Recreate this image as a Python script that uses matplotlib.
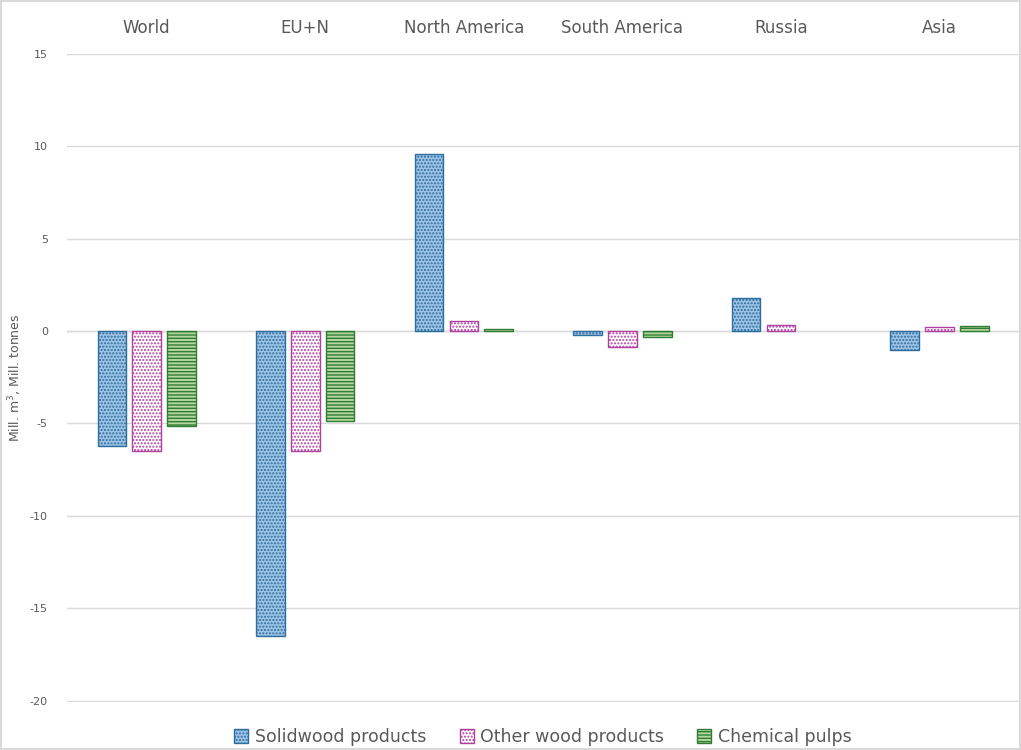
import matplotlib.pyplot as plt
import numpy as np

regions = ['World', 'EU+N', 'North America', 'South America', 'Russia', 'Asia']
series = ['Solidwood products', 'Other wood products', 'Chemical pulps']
solidwood = [-6.2, -16.5, 9.6, -0.2, 1.8, -1.05]
other_wood = [-6.5, -6.5, 0.55, -0.85, 0.35, 0.2]
chem_pulps = [-5.15, -4.85, 0.1, -0.3, 0.0, 0.27]

plt.rcParams['hatch.linewidth'] = 1.0
plt.rcParams['axes.unicode_minus'] = False
gray = '#595959'

fig = plt.figure(figsize=(10.21, 7.5), dpi=100)
fig.patch.set_edgecolor('#d9d9d9')
fig.patch.set_linewidth(1.5)
ax = fig.add_axes([0.066, 0.064, 0.932, 0.864])

x = np.arange(len(regions))
w = 0.18
step = 0.22
styles = [
    dict(facecolor='#9dc3e6', edgecolor='#2e6e9e', hatch='.....'),
    dict(facecolor='white', edgecolor='#b040a0', hatch='.....'),
    dict(facecolor='#b5d6a0', edgecolor='#2e7d32', hatch='-----'),
]
for i, (vals, name) in enumerate(zip([solidwood, other_wood, chem_pulps], series)):
    bars = ax.bar(x + (i - 1) * step, vals, w, label=name, linewidth=1.0, zorder=3, **styles[i])
    # zero-height bars are not drawn in the original
    for b, v in zip(bars, vals):
        if v == 0:
            b.set_visible(False)

ax.set_ylim(-20.08, 15)
ax.set_xlim(-0.5, len(regions) - 0.5)
ax.set_yticks(range(-20, 16, 5))
ax.tick_params(axis='y', length=0, labelsize=8, colors=gray, pad=14)
ax.grid(axis='y', color='#d9d9d9', linewidth=1)
ax.set_axisbelow(True)
ax.xaxis.tick_top()
ax.set_xticks(x)
ax.set_xticklabels(regions)
ax.tick_params(axis='x', length=0, labelsize=12, colors=gray, pad=12)
for s in ax.spines.values():
    s.set_visible(False)
ax.axhline(0, color='#d9d9d9', linewidth=1, zorder=1)
ax.set_ylabel('Mill. m$^3$, Mill. tonnes', fontsize=9, color=gray)
ax.yaxis.set_label_coords(-0.046, 0.5)

leg = ax.legend(loc='lower center', bbox_to_anchor=(0.5, -0.092), ncol=3, frameon=False,
                fontsize=12.5, handlelength=0.8, handleheight=0.8, handletextpad=0.4,
                columnspacing=1.9)
for t in leg.get_texts():
    t.set_color(gray)

fig.savefig('out.png', dpi=100, edgecolor=fig.get_edgecolor())
